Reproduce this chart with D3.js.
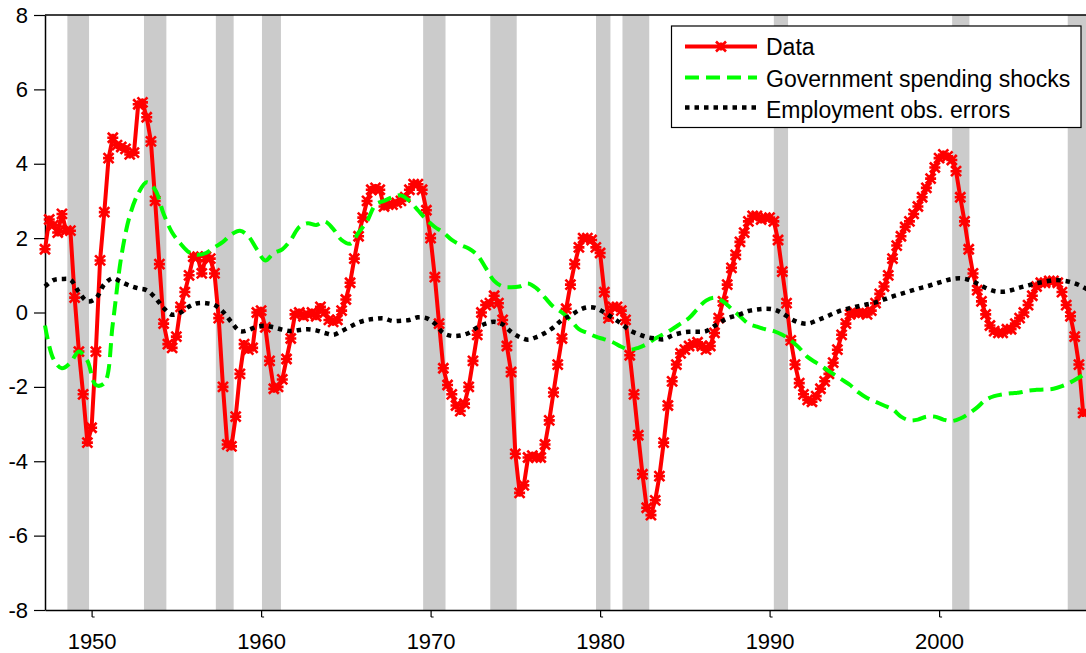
<!DOCTYPE html>
<html>
<head>
<meta charset="utf-8">
<script src="https://cdn.jsdelivr.net/npm/d3@7"></script>
<style>
  body { margin: 0; background: #fff; }
  svg { display: block; font-family: "Liberation Sans", Arial, Helvetica, sans-serif; }
</style>
</head>
<body>
<div id="chart"></div>
<script>
'use strict';

// First observation (year fraction); the red series is quarterly, the model lines half-yearly
const firstQuarter = 1947.25;
const firstHalfYear = 1947.25;

// Data (red), one value per quarter
let dataValues = [
  1.7, 2.5, 2.35, 2.15, 2.65, 2.2, 2.2, 0.4,
  -1.05, -2.2, -3.5, -3.1, -1.05, 1.4, 2.7, 4.15,
  4.7, 4.5, 4.45, 4.4, 4.25, 4.3, 5.6, 5.65,
  5.25, 4.6, 3.0, 1.3, -0.3, -0.85, -0.95, -0.65,
  0.15, 0.55, 1.0, 1.5, 1.5, 1.05, 1.5, 1.45,
  1.05, -0.15, -2.0, -3.55, -3.6, -2.8, -1.65, -0.85,
  -1.0, -0.95, 0.0, 0.05, -0.4, -1.3, -2.05, -2.0,
  -1.8, -1.25, -0.7, -0.05, 0.0, -0.1, -0.05, 0.0,
  -0.1, 0.15, 0.0, -0.2, -0.25, -0.2, 0.05, 0.35,
  0.8, 1.45, 2.05, 2.55, 3.0, 3.3, 3.35, 3.3,
  2.85, 2.9, 2.9, 2.95, 3.0, 3.1, 3.3, 3.45,
  3.45, 3.3, 2.75, 2.0, 0.95, -0.3, -1.5, -1.95,
  -2.2, -2.5, -2.65, -2.45, -2.0, -1.3, -0.6, 0.0,
  0.2, 0.25, 0.45, 0.25, -0.2, -0.9, -1.6, -3.8,
  -4.85, -4.65, -3.9, -3.85, -3.9, -3.9, -3.55, -2.9,
  -2.15, -1.4, -0.7, 0.1, 0.75, 1.3, 1.75, 2.0,
  2.0, 1.95, 1.75, 1.6, 0.55, -0.15, 0.15, 0.15,
  0.05, -0.2, -1.15, -2.2, -3.3, -4.35, -5.25, -5.45,
  -5.05, -4.4, -3.5, -2.5, -1.85, -1.4, -1.1, -1.0,
  -0.9, -0.85, -0.8, -0.9, -1.0, -0.9, -0.55, -0.15,
  0.3, 0.75, 1.2, 1.55, 1.9, 2.15, 2.45, 2.6,
  2.6, 2.5, 2.55, 2.55, 2.45, 1.95, 1.1, 0.25,
  -0.75, -1.4, -1.9, -2.2, -2.35, -2.4, -2.25, -2.05,
  -1.85, -1.65, -1.35, -1.0, -0.6, -0.3, -0.05, 0.0,
  -0.02, 0.0, -0.05, 0.05, 0.25, 0.5, 0.7, 1.0,
  1.45, 1.8, 2.05, 2.3, 2.45, 2.65, 2.85, 3.1,
  3.35, 3.6, 3.9, 4.15, 4.25, 4.2, 4.1, 3.8,
  3.1, 2.45, 1.7, 1.05, 0.6, 0.3, -0.05, -0.35,
  -0.5, -0.55, -0.55, -0.45, -0.45, -0.3, -0.15, 0.0,
  0.2, 0.45, 0.7, 0.8, 0.8, 0.85, 0.85, 0.8,
  0.55, 0.2, -0.1, -0.65, -1.4, -2.7
];

// Government spending shocks (green dashed), every half year
let govShockValues = [
  -0.35, -1.25, -1.5, -1.35, -1.05, -1.3, -1.95, -1.9,
  -0.3, 1.5, 2.6, 3.2, 3.5, 3.3, 2.65, 2.15,
  1.85, 1.62, 1.55, 1.6, 1.75, 1.9, 2.1, 2.2,
  2.05, 1.7, 1.4, 1.6, 1.7, 1.95, 2.3, 2.4,
  2.35, 2.45, 2.25, 1.95, 1.85, 2.15, 2.45, 2.9,
  3.0, 3.1, 3.15, 3.0, 2.75, 2.5, 2.3, 2.15,
  1.95, 1.82, 1.72, 1.55, 1.2, 0.85, 0.7, 0.68,
  0.7, 0.78, 0.65, 0.4, 0.15, 0.0, -0.2, -0.45,
  -0.55, -0.65, -0.72, -0.8, -0.92, -1.0, -0.95, -0.85,
  -0.7, -0.58, -0.45, -0.3, -0.15, 0.1, 0.32, 0.4,
  0.3, 0.1, -0.1, -0.3, -0.38, -0.45, -0.5, -0.6,
  -0.75, -0.95, -1.2, -1.35, -1.5, -1.65, -1.8, -1.95,
  -2.15, -2.3, -2.4, -2.5, -2.6, -2.8, -2.9, -2.88,
  -2.8, -2.8, -2.88, -2.92, -2.85, -2.72, -2.55, -2.35,
  -2.25, -2.2, -2.17, -2.15, -2.1, -2.08, -2.07, -2.05,
  -1.98, -1.88, -1.75, -1.6
];

// Employment observation errors (black dotted), every half year
let empErrorValues = [
  0.7, 0.87, 0.9, 0.88, 0.55, 0.3, 0.38, 0.76,
  0.92, 0.82, 0.72, 0.65, 0.6, 0.4, 0.12, -0.06,
  0.0, 0.16, 0.25, 0.25, 0.2, 0.02, -0.26, -0.5,
  -0.47, -0.38, -0.36, -0.4, -0.46, -0.5, -0.47, -0.45,
  -0.48, -0.55, -0.6, -0.5, -0.38, -0.27, -0.2, -0.17,
  -0.16, -0.23, -0.22, -0.2, -0.13, -0.15, -0.3, -0.55,
  -0.63, -0.62, -0.55, -0.4, -0.3, -0.25, -0.32, -0.52,
  -0.66, -0.73, -0.66, -0.55, -0.4, -0.2, -0.08, 0.06,
  0.14, 0.12, 0.0, -0.15, -0.3, -0.48, -0.58, -0.66,
  -0.7, -0.72, -0.62, -0.55, -0.52, -0.52, -0.5, -0.36,
  -0.22, -0.12, -0.05, 0.04, 0.08, 0.1, 0.08, -0.02,
  -0.17, -0.27, -0.3, -0.22, -0.13, -0.03, 0.06, 0.12,
  0.17, 0.22, 0.27, 0.35, 0.43, 0.5, 0.57, 0.64,
  0.7, 0.77, 0.84, 0.9, 0.92, 0.88, 0.78, 0.66,
  0.58, 0.56, 0.6, 0.67, 0.73, 0.79, 0.83, 0.87,
  0.86, 0.82, 0.74, 0.62
];

// Recession bands, as shaded in the picture
let recessionStarts = [1948.57, 1953.09, 1957.33, 1960.05, 1969.56, 1973.52, 1979.76, 1981.32, 1990.25, 2000.77, 2007.59];
let recessionEnds   = [1949.85, 1954.41, 1958.38, 1961.17, 1970.88, 1975.08, 1980.61, 1982.90, 1991.09, 2001.79, 2009.50];

// Axis ticks
let xTicks = [1950, 1960, 1970, 1980, 1990, 2000];
let yTicks = [-8, -6, -4, -2, 0, 2, 4, 6, 8];

let legendLabels = ["Data", "Government spending shocks", "Employment obs. errors"];

// Build point arrays from the value lists
let dataPoints = dataValues.map((v, i) => ({year: firstQuarter + i * 0.25, value: v}));
let govPoints = govShockValues.map((v, i) => ({year: firstHalfYear + i * 0.5, value: v}));
let empPoints = empErrorValues.map((v, i) => ({year: firstHalfYear + i * 0.5, value: v}));

// Set up the SVG area
const width = 1086;
const height = 653;
const plotLeft = 45, plotRight = 1087.4, plotTop = 15, plotBottom = 610;

const svg = d3.select("#chart").append("svg")
    .attr("width", width)
    .attr("height", height)
    .style("background", "#fff");

const x = d3.scaleLinear()
    .domain([1947.25, 2008.75])
    .range([plotLeft, plotRight]);

const y = d3.scaleLinear()
    .domain([-8, 8])
    .range([plotBottom, plotTop]);

// Grey recession bands
svg.append("g")
  .selectAll("rect")
  .data(recessionStarts.map((s, i) => [s, recessionEnds[i]]))
  .join("rect")
    .attr("x", d => x(d[0]))
    .attr("width", d => x(d[1]) - x(d[0]))
    .attr("y", plotTop)
    .attr("height", plotBottom - plotTop)
    .attr("fill", "#cbcbcb");

// Axes
const yAxis = svg.append("g")
    .attr("transform", `translate(${plotLeft},0)`)
    .call(d3.axisLeft(y).tickValues(yTicks).tickFormat(d => String(d))
      .tickSize(11).tickSizeOuter(0).tickPadding(6));

const xAxis = svg.append("g")
    .attr("transform", `translate(0,${plotBottom})`)
    .call(d3.axisBottom(x).tickValues(xTicks).tickFormat(d => String(d))
      .tickSize(7).tickSizeOuter(0).tickPadding(16));

[yAxis, xAxis].forEach(ax => {
  ax.selectAll("text").attr("font-size", 22).attr("fill", "#000")
    .style("font-family", '"Liberation Sans", Arial, sans-serif');
  ax.selectAll("line").attr("stroke", "#000").attr("stroke-width", 1.2);
  ax.select(".domain").attr("stroke", "#000").attr("stroke-width", 1.5);
});

// small foot on the x ticks, like the original
xAxis.selectAll(".tick").append("path")
    .attr("d", "M0,7h2.5")
    .attr("stroke", "#000")
    .attr("stroke-width", 1);

// Top border of the box
svg.append("line")
    .attr("x1", plotLeft).attr("x2", width)
    .attr("y1", plotTop).attr("y2", plotTop)
    .attr("stroke", "#000")
    .attr("stroke-width", 1.5);

// Lines
let line = d3.line()
    .x(d => x(d.year))
    .y(d => y(d.value));

let smoothLine = d3.line()
    .x(d => x(d.year))
    .y(d => y(d.value))
    .curve(d3.curveCatmullRom);

svg.append("path")
    .datum(dataPoints)
    .attr("d", line)
    .attr("fill", "none")
    .attr("stroke", "#ff0000")
    .attr("stroke-width", 4)
    .attr("stroke-linejoin", "round");

// asterisk markers on every quarter
const markerPath = "M-5,-5L5,5M-5,5L5,-5M-5.5,0L5.5,0M0,-4L0,4";

svg.append("g")
  .selectAll("path")
  .data(dataPoints)
  .join("path")
    .attr("transform", d => `translate(${x(d.year)},${y(d.value)})`)
    .attr("d", markerPath)
    .attr("fill", "none")
    .attr("stroke", "#ff0000")
    .attr("stroke-width", 2.6);

svg.append("path")
    .datum(govPoints)
    .attr("d", smoothLine)
    .attr("fill", "none")
    .attr("stroke", "#00ff00")
    .attr("stroke-width", 4)
    .attr("stroke-dasharray", "14,7");

svg.append("path")
    .datum(empPoints)
    .attr("d", smoothLine)
    .attr("fill", "none")
    .attr("stroke", "#000")
    .attr("stroke-width", 4.5)
    .attr("stroke-dasharray", "4.5,5");

// Legend
const legend = svg.append("g");

legend.append("rect")
    .attr("x", 671.5)
    .attr("y", 26)
    .attr("width", 409.5)
    .attr("height", 101.5)
    .attr("fill", "#fff")
    .attr("stroke", "#000")
    .attr("stroke-width", 1.2);

let legendStyles = [
  {color: "#ff0000", width: 4, dash: null},
  {color: "#00ff00", width: 4, dash: "14,7"},
  {color: "#000", width: 4.5, dash: "4.5,5"}
];
let legendLineY = [46.5, 77.5, 107.5];
let legendTextY = [54.5, 87.3, 118.3];

legendLabels.forEach((label, i) => {
  legend.append("line")
      .attr("x1", 685).attr("x2", 757)
      .attr("y1", legendLineY[i]).attr("y2", legendLineY[i])
      .attr("stroke", legendStyles[i].color)
      .attr("stroke-width", legendStyles[i].width)
      .attr("stroke-dasharray", legendStyles[i].dash);

  legend.append("text")
      .attr("x", 766)
      .attr("y", legendTextY[i])
      .attr("font-size", 23)
      .attr("fill", "#000")
      .text(label);
});

legend.append("path")
    .attr("transform", `translate(721,${legendLineY[0]})`)
    .attr("d", markerPath)
    .attr("fill", "none")
    .attr("stroke", "#ff0000")
    .attr("stroke-width", 2.6);
</script>
</body>
</html>
